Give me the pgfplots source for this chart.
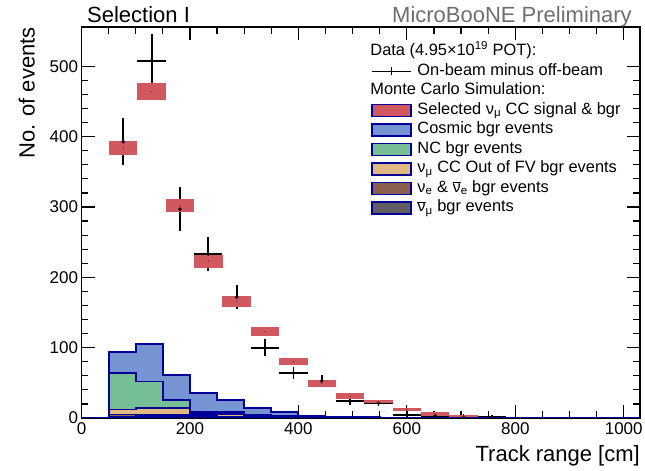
\documentclass[border=0pt]{standalone}
\usepackage{fontspec}
\setmainfont{Liberation Sans}
\usepackage{pgfplots}
\usepackage{pgfplotstable}
\pgfplotsset{compat=1.18}
\usetikzlibrary{calc}
\definecolor{mcred}{RGB}{210,88,95}
\definecolor{cosmic}{RGB}{118,148,210}
\definecolor{ncgreen}{RGB}{118,190,150}
\definecolor{tanfv}{RGB}{225,185,130}
\definecolor{brownb}{RGB}{140,95,80}
\definecolor{darkg}{RGB}{95,95,100}
\definecolor{navy}{RGB}{0,0,150}
\definecolor{prelim}{RGB}{110,110,110}
\newcommand\nubar{\mbox{$\overline{\mbox{ν}}$}}

% stacked MC background histograms (increments, bottom to top), bin left edges
\pgfplotstableread{
x    nubar nue  oofv nc   cosmic
0    0     0    0    0    0
50   1.5   3.5  7    52   30
100  2.5   2.5  9    38   53
150  2.5   2.5  9    12   35
200  1.5   1.5  3    3    26
250  1.0   1.0  3.5  2.5  18
300  0.8   0.7  1.5  2    9.5
350  0.5   0.5  1    1    6
400  0.3   0.3  0.4  0.5  1.5
450  0.2   0.2  0.2  0.2  0.7
500  0.1   0.1  0.2  0.1  0.5
550  0     0.1  0.1  0.1  0.3
600  0     0    0.1  0    0.2
650  0     0    0    0    0
1050 0     0    0    0    0
}\hist

% selected nu_mu CC signal & bgr (MC), centre and half-height of the band
\pgfplotstableread{
x      y      ey
77.0   384    10
129.3  464    12
181.6  302    9
233.9  223    9
286.2  165.8  7.8
338.5  122.8  6.2
390.8  80.5   5.5
443.1  49.2   4.8
495.4  31     4
547.7  23.3   2.3
600.0  12.4   2.4
652.3  5.7    2.4
704.6  2.4    1.9
756.9  1.0    1.0
809.2  0.75   0.75
}\mc

% data: on-beam minus off-beam
\pgfplotstableread{
x      y     ex    ey
77.0   393   26.1  33
129.3  508   26.1  38
181.6  297   26.1  31
233.9  233   26.1  24
286.2  172   26.1  17
338.5  100   26.1  12
390.8  64    26.1  9
443.1  53    26.1  8
495.4  24    26.1  5
547.7  21    26.1  4
600.0  4.5   26.1  7
652.3  3     26.1  5
704.6  1     26.1  4
756.9  1     26.1  3
}\data

\begin{document}
\begin{tikzpicture}
\begin{axis}[
  name=ax,
  scale only axis, width=558.5pt, height=391pt,
  xmin=0, xmax=1030, ymin=0, ymax=556,
  xtick={0,200,...,1000}, ytick={0,100,...,500},
  minor x tick num=3, minor y tick num=4,
  tick align=inside, major tick length=13pt, minor tick length=7pt,
  tick style={black, line width=1.2pt},
  axis line style={line width=1.5pt},
  /pgf/number format/assume math mode=true,
  /pgf/number format/1000 sep={},
  tick label style={font=\fontsize{17}{17}\selectfont},
  xticklabel style={yshift=-1pt},
  xlabel={Track range [cm]},
  xlabel style={at={(axis description cs:1,0)}, anchor=base east, yshift=-43pt, inner sep=0pt, font=\fontsize{22}{22}\selectfont},
  ylabel={No. of events},
  ylabel style={at={(axis description cs:-0.098,1)}, anchor=east, inner sep=0pt, font=\fontsize{22}{22}\selectfont},
  stack plots=y,
  legend cell align=left,
  legend style={at={(axis description cs:0.513,0.967)}, anchor=north west, draw=none, fill=none,
    font=\fontsize{16.4}{16.4}\selectfont, column sep=4pt, row sep=0pt,
    nodes={text height=12pt, text depth=4pt, inner sep=1.75pt}},
]
% legend entries
\addlegendimage{empty legend}
\addlegendentry{\hspace*{-47pt}Data (4.95×10\textsuperscript{19} POT):}
\addlegendimage{legend image code/.code={\draw[black,line width=1.5pt] (0pt,0pt)--(39pt,0pt); \draw[black,line width=1.5pt] (19.5pt,-4pt)--(19.5pt,4pt);}}
\addlegendentry{On-beam minus off-beam}
\addlegendimage{empty legend}
\addlegendentry{\hspace*{-47pt}Monte Carlo Simulation:}
\pgfplotsset{boxleg/.style={legend image code/.code={\draw[##1,line width=1.3pt] (0pt,-6pt) rectangle (39pt,6pt);}}}
\addlegendimage{boxleg, fill=mcred, draw=navy}
\addlegendentry{Selected ν\textsubscript{μ} CC signal \& bgr}
\addlegendimage{boxleg, fill=cosmic, draw=navy}
\addlegendentry{Cosmic bgr events}
\addlegendimage{boxleg, fill=ncgreen, draw=navy}
\addlegendentry{NC bgr events}
\addlegendimage{boxleg, fill=tanfv, draw=navy}
\addlegendentry{ν\textsubscript{μ} CC Out of FV bgr events}
\addlegendimage{boxleg, fill=brownb, draw=navy}
\addlegendentry{ν\textsubscript{e} \& \nubar\textsubscript{e} bgr events}
\addlegendimage{boxleg, fill=darkg, draw=navy}
\addlegendentry{\nubar\textsubscript{μ} bgr events}

% stacked histograms
\addplot[const plot mark left, fill=darkg, draw=navy, line width=1.8pt, forget plot] table[x=x, y=nubar] {\hist} \closedcycle;
\addplot[const plot mark left, fill=brownb, draw=navy, line width=1.8pt, forget plot] table[x=x, y=nue] {\hist} \closedcycle;
\addplot[const plot mark left, fill=tanfv, draw=navy, line width=1.8pt, forget plot] table[x=x, y=oofv] {\hist} \closedcycle;
\addplot[const plot mark left, fill=ncgreen, draw=navy, line width=1.8pt, forget plot] table[x=x, y=nc] {\hist} \closedcycle;
\addplot[const plot mark left, fill=cosmic, draw=navy, line width=1.8pt, forget plot] table[x=x, y=cosmic] {\hist} \closedcycle;

% MC bands
\addplot[stack plots=false, forget plot, only marks, mark=*, mark size=0.5pt, color=mcred!60!black,
  error bars/.cd, y dir=both, y explicit, error mark=none,
  error bar style={line width=28.4pt, mcred}]
  table[x=x, y=y, y error=ey] {\mc};

% data
\addplot[stack plots=false, forget plot, only marks, mark=*, mark size=1.6pt, black,
  error bars/.cd, x dir=both, x explicit, y dir=both, y explicit, error mark=none,
  error bar style={line width=1.8pt, black}]
  table[x=x, y=y, x error=ex, y error=ey] {\data};
\end{axis}
\node[anchor=base west, inner sep=0pt, font=\fontsize{22}{22}\selectfont] at ($(ax.north west)+(5.5pt,4pt)$) {Selection I};
\node[anchor=base east, inner sep=0pt, text=prelim, font=\fontsize{22}{22}\selectfont] at ($(ax.north east)+(-8pt,4pt)$) {MicroBooNE Preliminary};
\pgfresetboundingbox
\path[use as bounding box] ($(ax.south west)+(-81.5pt,-53pt)$) rectangle ($(ax.north east)+(5pt,27pt)$);
\end{tikzpicture}
\end{document}
